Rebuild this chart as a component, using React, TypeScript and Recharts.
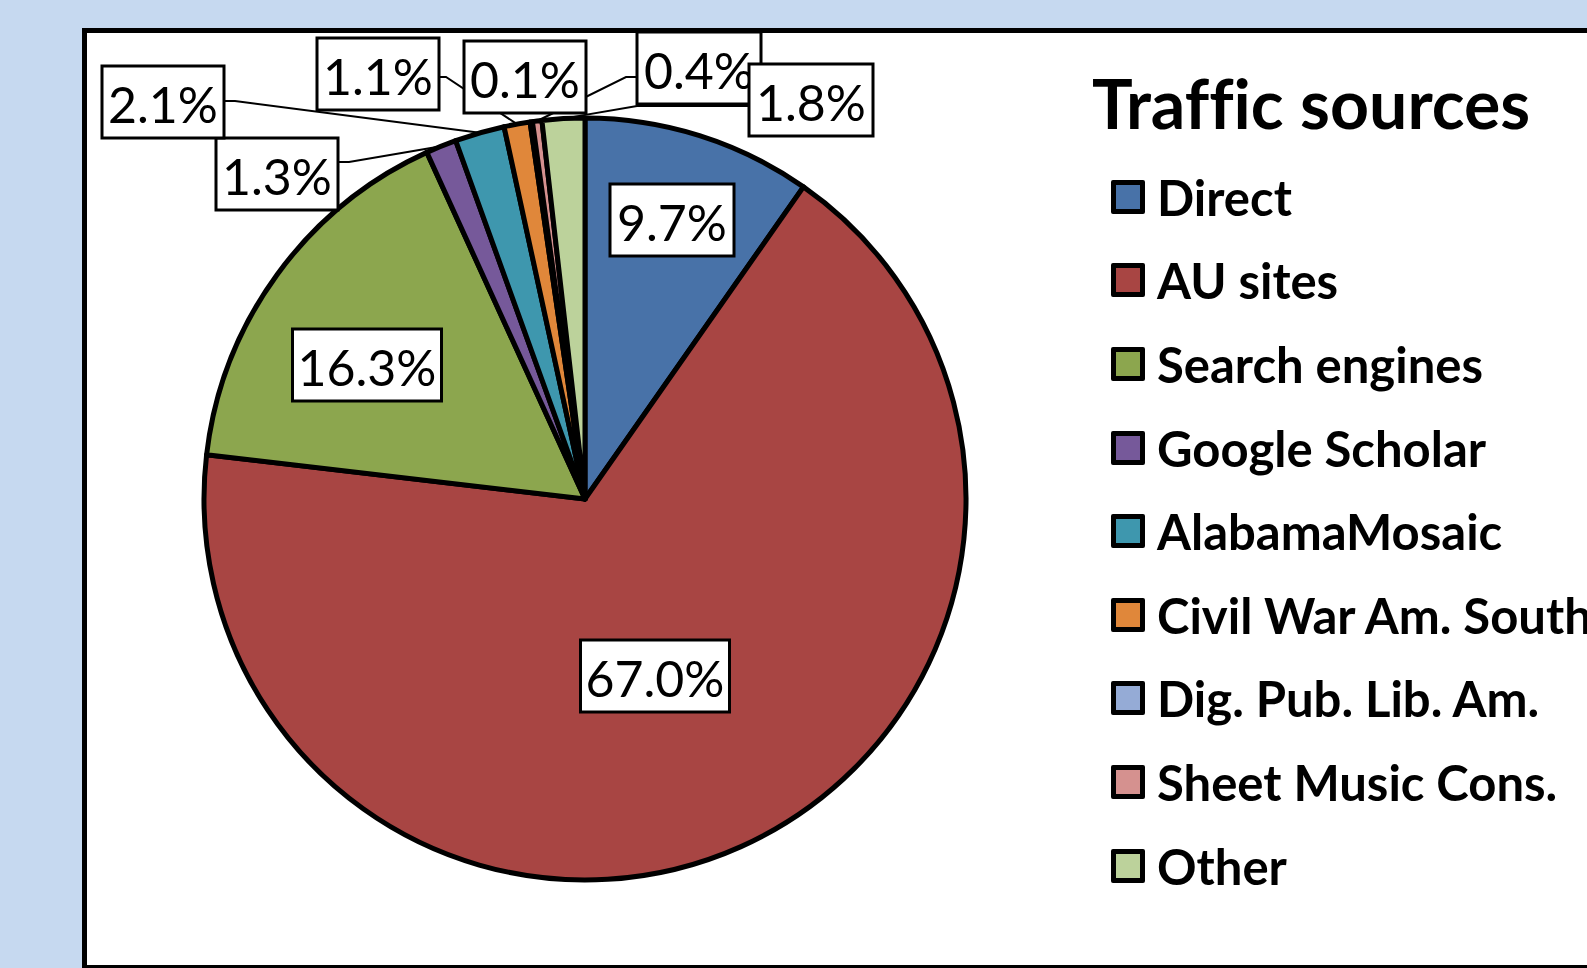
import { PieChart, Pie, Cell, Legend } from "recharts"

// Traffic sources, in percent
const sources = ["Direct", "AU sites", "Search engines", "Google Scholar", "AlabamaMosaic", "Civil War Am. South", "Dig. Pub. Lib. Am.", "Sheet Music Cons.", "Other"]
const shares = [9.7, 67.0, 16.3, 1.3, 2.1, 1.1, 0.1, 0.4, 1.8]
const colors = ["#4872a8", "#a84543", "#8ca64e", "#76599a", "#3e97ae", "#e0873a", "#95abd6", "#d5918f", "#bcd29b"]

const data = sources.map((name, i) => ({ name, value: shares[i] }))

// where each label box sits, relative to the pie centre (Excel had them dragged around)
const labelLayout = [
  { dx: 87, dy: -279, w: 124 },
  { dx: 70, dy: 177, w: 149 },
  { dx: -218, dy: -134, w: 149 },
  { dx: -308, dy: -325, w: 122, side: "right", yOff: -12, elbow: 11 },
  { dx: -422, dy: -397, w: 122, side: "right", yOff: -1, elbow: 11 },
  { dx: -207, dy: -425, w: 122, side: "right", yOff: 3, elbow: 7 },
  { dx: -60, dy: -422, w: 122 },
  { dx: 114, dy: -431, w: 124, side: "left", yOff: 9, elbow: 11 },
  { dx: 226, dy: -399, w: 124, side: "left", yOff: 6, elbow: 112 },
]

const RAD = Math.PI / 180
const BOX_H = 72
const FONT = "Lato, 'Open Sans', sans-serif"

function renderLeader(props: any) {
  const { cx, cy, midAngle, outerRadius, index } = props
  const l = labelLayout[index]
  if (!l.side) return null
  const bx = cx + l.dx
  const by = cy + l.dy
  const sx = l.side === "right" ? bx + l.w / 2 : bx - l.w / 2
  const sy = by + l.yOff
  const kx = l.side === "right" ? sx + l.elbow : sx - l.elbow
  const ex = cx + outerRadius * Math.cos(-midAngle * RAD)
  const ey = cy + outerRadius * Math.sin(-midAngle * RAD)
  return (
    <polyline points={`${sx},${sy} ${kx},${sy} ${ex},${ey}`} fill="none" stroke="#000" strokeWidth={2} />
  )
}

function renderBox(props: any) {
  const { cx, cy, index } = props
  const l = labelLayout[index]
  const bx = cx + l.dx
  const by = cy + l.dy
  return (
    <g>
      <rect x={bx - l.w / 2} y={by - BOX_H / 2} width={l.w} height={BOX_H} fill="#fff" stroke="#000" strokeWidth={3} />
      <text x={bx} y={by + 2} textAnchor="middle" dominantBaseline="central" fontFamily={FONT} fontSize={50} fill="#000">
        {shares[index].toFixed(1)}%
      </text>
    </g>
  )
}

function LegendBox() {
  return (
    <div style={{ fontFamily: FONT, fontWeight: 700, color: "#000", fontVariantLigatures: "none" }}>
      <div style={{ fontSize: 68, lineHeight: "80px", marginLeft: -19, marginBottom: 12 }}>Traffic sources</div>
      {sources.map((s, i) => (
        <div key={s} style={{ display: "flex", alignItems: "center", height: 83.6, whiteSpace: "nowrap" }}>
          <span style={{ width: 24, height: 24, background: colors[i], border: "5px solid #000", borderRadius: 2, marginRight: 12, flex: "none" }} />
          <span style={{ fontSize: 49, lineHeight: "50px" }}>{s}</span>
        </div>
      ))}
    </div>
  )
}

export default function App() {
  return (
    <div style={{ position: "absolute", left: 0, top: 0, width: 1587, height: 968, overflow: "hidden", background: "#c6d9f0" }}>
      <div style={{ position: "absolute", left: 82, top: 28, width: 1600, height: 932, background: "#fff", border: "5px solid #000" }} />
      <div style={{ position: "absolute", left: 0, top: 0 }}>
        <PieChart width={1587} height={968} margin={{ top: 0, right: 0, bottom: 0, left: 0 }}>
          <Pie
            data={data}
            dataKey="value"
            nameKey="name"
            cx={585}
            cy={499}
            outerRadius={381}
            startAngle={90}
            endAngle={-270}
            stroke="#000"
            strokeWidth={5}
            strokeLinejoin="round"
            label={renderLeader}
            labelLine={false}
            isAnimationActive={false}
          >
            {data.map((d, i) => (
              <Cell key={d.name} fill={colors[i]} />
            ))}
          </Pie>
          {/* same pie again, invisible, so all boxes land above every leader line */}
          <Pie
            data={data}
            dataKey="value"
            nameKey="name"
            cx={585}
            cy={499}
            outerRadius={381}
            startAngle={90}
            endAngle={-270}
            fill="none"
            stroke="none"
            legendType="none"
            label={renderBox}
            labelLine={false}
            isAnimationActive={false}
          />
          <Legend
            layout="vertical"
            content={() => <LegendBox />}
            wrapperStyle={{ position: "absolute", left: 1111, top: 63, width: 480 }}
          />
        </PieChart>
      </div>
    </div>
  )
}
